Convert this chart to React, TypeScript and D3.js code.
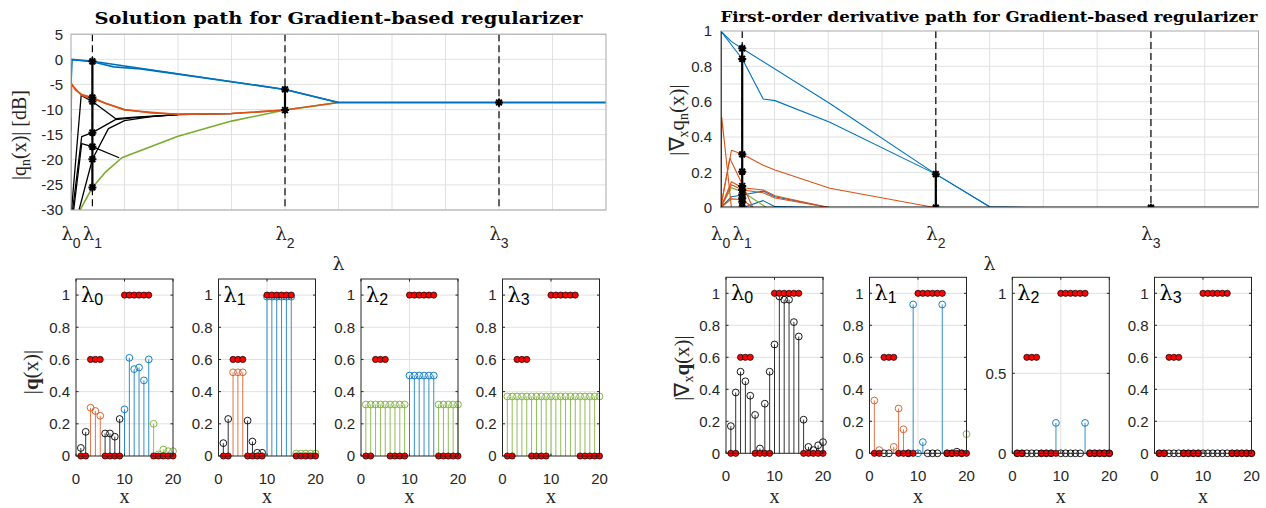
import React from 'react';
import * as d3 from 'd3';

const COL: Record<string, string> = { k: '#000000', o: '#D95319', b: '#0072BD', g: '#77AC30' };

// ---------- top plots ----------
const lambdaPos = [0, 0.4, 4, 8];
const lambdaNames = ['0', '1', '2', '3'];
const xGrid = [1, 2, 3, 4, 5, 6, 7, 8, 9];
const dbTicks = [5, 0, -5, -10, -15, -20, -25, -30];
const gradTicks = [0, 0.2, 0.4, 0.6, 0.8, 1];
const gradGrid = [0.1, 0.2, 0.3, 0.4, 0.5, 0.6, 0.7, 0.8, 0.9];

// solution path (dB)
const solBlue1: [number, number][] = [[0, 0], [0.4, -0.4], [4, -6.0], [5, -8.6], [10, -8.6]];
const solBlue2: [number, number][] = [[0, -5], [0.02, -0.1], [0.4, -0.5], [0.8, -1.5], [1.3, -1.9], [4, -6.0], [5, -8.6]];
const solOrange1: [number, number][] = [[0, -12], [0.01, -4.8], [0.08, -6.1], [0.2, -7.0], [0.4, -7.6], [0.65, -8.8], [1.0, -10.0], [1.5, -10.7], [2, -10.9], [3, -10.8], [4, -10.1], [5, -8.6], [10, -8.6]];
const solOrange2: [number, number][] = [[0.01, -5.0], [0.2, -7.2], [0.4, -7.8], [1.0, -10.1], [2, -11.0], [3, -10.8], [4, -10.1]];
const solBlack1: [number, number][] = [[0.01, -30], [0.19, -7.2], [0.4, -8.4], [0.83, -11.8], [1.2, -11.5], [2, -11.0], [3, -10.8]];
const solBlack2: [number, number][] = [[0.03, -30], [0.2, -15.4], [0.4, -14.6], [0.83, -12.0], [1.2, -11.6], [2, -11.0]];
const solBlack3: [number, number][] = [[0.05, -30], [0.2, -16.8], [0.4, -17.4], [0.9, -19.6]];
const solBlack4: [number, number][] = [[0.15, -30], [0.4, -19.9], [0.7, -13.8], [1.0, -12.2], [1.5, -11.4], [2, -11.0]];
const solBlackEdge: [number, number][] = [[0, -11.5], [0, -14.5]];
const solGreenEdge: [number, number][] = [[0, -14], [0, -30]];
const solGreen: [number, number][] = [[0.17, -30], [0.4, -25.5], [0.65, -22.4], [0.95, -19.6], [2, -15.3], [3, -12.3], [4, -10.1], [5, -8.6], [10, -8.6]];

const solPaths = [
  { c: 'k', w: 1.3, pts: solBlackEdge },
  { c: 'g', w: 1.5, pts: solGreenEdge },
  { c: 'k', w: 1.3, pts: solBlack1 },
  { c: 'k', w: 1.3, pts: solBlack2 },
  { c: 'k', w: 1.3, pts: solBlack3 },
  { c: 'k', w: 1.3, pts: solBlack4 },
  { c: 'g', w: 1.6, pts: solGreen },
  { c: 'o', w: 1.6, pts: solOrange2 },
  { c: 'o', w: 1.6, pts: solOrange1 },
  { c: 'b', w: 1.6, pts: solBlue2 },
  { c: 'b', w: 1.6, pts: solBlue1 },
];
const solStars1 = [-0.4, -7.6, -8.4, -14.6, -17.4, -19.9, -25.5];
const solStars2 = [-6.0, -10.1];
const solStars3 = [-8.6];

// derivative path
const gBlue1: [number, number][] = [[0, 1], [0.2, 0.94], [0.405, 0.9], [2.03, 0.59], [4, 0.19], [5.0, 0.005], [6, 0.0]];
const gBlue2: [number, number][] = [[0, 1], [0.405, 0.84], [0.79, 0.615], [1.01, 0.606], [2.03, 0.483], [4, 0.19], [5.0, 0.005]];
const gBlue3: [number, number][] = [[0, 0], [0.2, 0.062], [0.405, 0.072], [0.79, 0.094], [1.01, 0.062], [2.03, 0]];
const gBlue4: [number, number][] = [[0.405, 0], [0.79, 0.04], [1.01, 0.006], [2, 0]];
const gOrange1: [number, number][] = [[0, 0], [0.02, 0.51], [0.2, 0]];
const gOrange2: [number, number][] = [[0, 0], [0.2, 0.325], [0.405, 0.302], [0.79, 0.24], [1.01, 0.213], [2.03, 0.11], [4, 0]];
const gOrange3: [number, number][] = [[0, 0], [0.17, 0.28], [0.405, 0.13], [0.6, 0]];
const gOrange4: [number, number][] = [[0, 0], [0.2, 0.147], [0.405, 0.113], [0.79, 0.1], [1.01, 0.068], [2.03, 0]];
const gOrange5: [number, number][] = [[0, 0], [0.2, 0.13], [0.405, 0.1], [0.79, 0.085], [1.01, 0.055], [2.03, 0]];
const gOrange6: [number, number][] = [[0, 0], [0.2, 0.05], [0.405, 0.045], [0.6, 0]];
const gGreen: [number, number][] = [[0, 0], [0.2, 0.113], [0.405, 0.09], [0.86, 0]];
const gBlackEdge: [number, number][] = [[0, 0], [0, 1]];
const gBlackZero: [number, number][] = [[0, 0], [10, 0]];

const gradPaths = [
  { c: 'b', w: 1.1, pts: gBlue3 },
  { c: 'b', w: 1.1, pts: gBlue4 },
  { c: 'g', w: 1.1, pts: gGreen },
  { c: 'o', w: 1.1, pts: gOrange6 },
  { c: 'o', w: 1.1, pts: gOrange5 },
  { c: 'o', w: 1.1, pts: gOrange4 },
  { c: 'o', w: 1.1, pts: gOrange3 },
  { c: 'o', w: 1.1, pts: gOrange2 },
  { c: 'o', w: 1.1, pts: gOrange1 },
  { c: 'b', w: 1.1, pts: gBlue2 },
  { c: 'b', w: 1.1, pts: gBlue1 },
  { c: 'k', w: 2.2, pts: gBlackEdge },
  { c: 'k', w: 2.2, pts: gBlackZero },
];
const gradStars1 = [0.902, 0.842, 0.302, 0.204, 0.123, 0.1, 0.075, 0.053, 0.034, 0];
const gradStars2 = [0.19, 0];
const gradStars3 = [0];

// ---------- bottom stem panels ----------
const xIdx = d3.range(1, 21);
const truth = [0, 0, 0.6, 0.6, 0.6, 0, 0, 0, 0, 1, 1, 1, 1, 1, 1, 0, 0, 0, 0, 0];
const stemX = [0, 10, 20];

const qL0 = [0.05, 0.15, 0.30, 0.28, 0.25, 0.14, 0.14, 0.12, 0.23, 0.29, 0.61, 0.54, 0.55, 0.47, 0.60, 0.20, 0.01, 0.04, 0.03, 0.03];
const qL1 = [0.08, 0.23, 0.52, 0.52, 0.52, 0.22, 0.09, 0.02, 0.02, 0.99, 0.99, 0.99, 0.99, 0.99, 0.99, 0.015, 0.015, 0.015, 0.015, 0.015];
const qL2 = [0.32, 0.32, 0.32, 0.32, 0.32, 0.32, 0.32, 0.32, 0.32, 0.5, 0.5, 0.5, 0.5, 0.5, 0.5, 0.32, 0.32, 0.32, 0.32, 0.32];
const qL3 = [0.37, 0.37, 0.37, 0.37, 0.37, 0.37, 0.37, 0.37, 0.37, 0.37, 0.37, 0.37, 0.37, 0.37, 0.37, 0.37, 0.37, 0.37, 0.37, 0.37];
const cQ01 = 'kk' + 'ooo' + 'kkkk' + 'bbbbbb' + 'ggggg';
const cQ2 = 'ggggggggg' + 'bbbbbb' + 'ggggg';
const cQ3 = 'gggggggggggggggggggg';

const gR0 = [0.17, 0.38, 0.51, 0.45, 0.36, 0.24, 0.03, 0.31, 0.51, 0.68, 0.98, 0.96, 0.96, 0.82, 0.73, 0.21, 0.04, 0.02, 0.05, 0.07];
const gR1 = [0.33, 0.02, 0, 0, 0.04, 0.28, 0.15, 0, 0.93, 0, 0.07, 0, 0, 0, 0.93, 0, 0, 0.01, 0, 0.12];
const gR2 = [0, 0, 0, 0, 0, 0, 0, 0, 0.19, 0, 0, 0, 0, 0, 0.19, 0, 0, 0, 0, 0];
const gR3 = [0, 0, 0, 0, 0, 0, 0, 0, 0, 0, 0, 0, 0, 0, 0, 0, 0, 0, 0, 0];
const cG0 = 'kkkkkkkkkkkkkkkkkkkk';
const cG1 = 'ookkoookbbbkkkbkkkkg';
const cG2 = 'kkkkkkkkbkkkkkbkkkkk';
const cG3 = 'kkkkkkkkkkkkkkkkkkkk';

const ticks02 = [0, 0.2, 0.4, 0.6, 0.8, 1];
const ticks05 = [0, 0.5, 1];

const leftPanels = [
  { x0: 76, vals: qL0, cols: cQ01, lam: '0', ticks: ticks02 },
  { x0: 218.5, vals: qL1, cols: cQ01, lam: '1', ticks: ticks02 },
  { x0: 361, vals: qL2, cols: cQ2, lam: '2', ticks: ticks02 },
  { x0: 502.5, vals: qL3, cols: cQ3, lam: '3', ticks: ticks02 },
];
const rightPanels = [
  { x0: 726, vals: gR0, cols: cG0, lam: '0', ticks: ticks02 },
  { x0: 869.5, vals: gR1, cols: cG1, lam: '1', ticks: ticks02 },
  { x0: 1012.3, vals: gR2, cols: cG2, lam: '2', ticks: ticks05 },
  { x0: 1154.5, vals: gR3, cols: cG3, lam: '3', ticks: ticks02 },
];

const SANS = 'Liberation Sans, Arial, sans-serif';
const SERIF = 'Liberation Serif, Times New Roman, serif';
const LAM = 'DejaVu Serif, serif';
const TXT = '#262626';
const GRID = '#e1e1e1';

function starPath(r: number) {
  const a = r * 0.72;
  return `M${-r},0L${r},0M0,${-r}L0,${r}M${-a},${-a}L${a},${a}M${-a},${a}L${a},${-a}`;
}

function fmt(v: number) {
  return String(Math.round(v * 10) / 10);
}

type PathSpec = { c: string; w: number; pts: [number, number][] };

function PathPlot(props: {
  id: string; x0: number; x1: number; yTop: number; yBot: number; domY: [number, number];
  yTicks: number[]; yGrid: number[]; paths: PathSpec[]; stars: number[][]; tickFont: number;
  labelX: number;
}) {
  const { id, x0, x1, yTop, yBot, domY, yTicks, yGrid, paths, stars, tickFont, labelX } = props;
  const xs = d3.scaleLinear().domain([0, 10]).range([x0, x1]);
  const ys = d3.scaleLinear().domain(domY).range([yBot, yTop]);
  const line = d3.line<[number, number]>().x(d => xs(d[0])).y(d => ys(d[1]));
  const star = starPath(4);
  return (
    <g>
      <defs>
        <clipPath id={id}>
          <rect x={x0} y={yTop} width={x1 - x0} height={yBot - yTop} />
        </clipPath>
      </defs>
      <rect x={x0} y={yTop} width={x1 - x0} height={yBot - yTop} fill="#fff" />
      {xGrid.map(v => (
        <line key={'gx' + v} x1={xs(v)} x2={xs(v)} y1={yTop} y2={yBot} stroke={GRID} strokeWidth={1} />
      ))}
      {yGrid.map(v => (
        <line key={'gy' + v} x1={x0} x2={x1} y1={ys(v)} y2={ys(v)} stroke={GRID} strokeWidth={1} />
      ))}
      <g clipPath={`url(#${id})`}>
        {paths.map((p, i) => (
          <path key={i} d={line(p.pts) || ''} fill="none" stroke={COL[p.c]} strokeWidth={p.w} strokeLinejoin="round" />
        ))}
        {[1, 2, 3].map(k => (
          <line key={'dl' + k} x1={xs(lambdaPos[k])} x2={xs(lambdaPos[k])} y1={yTop} y2={yBot}
            stroke="#000" strokeWidth={1.2} strokeDasharray="7,4" />
        ))}
        {stars.map((s, k) => (
          <g key={'st' + k}>
            {s.length > 1 && (
              <line x1={xs(lambdaPos[k + 1])} x2={xs(lambdaPos[k + 1])} y1={ys(d3.max(s) as number)} y2={ys(d3.min(s) as number)}
                stroke="#000" strokeWidth={2.2} />
            )}
            {s.map((v, j) => (
              <path key={j} d={star} transform={`translate(${xs(lambdaPos[k + 1])},${ys(v)})`} stroke="#000" strokeWidth={2} fill="none" />
            ))}
          </g>
        ))}
      </g>
      <rect x={x0} y={yTop} width={x1 - x0} height={yBot - yTop} fill="none" stroke="#a8a8a8" strokeWidth={1} />
      {yTicks.map(v => (
        <text key={'yt' + v} x={labelX} y={ys(v)} dy="0.36em" textAnchor="end" fontFamily={SANS} fontSize={tickFont} fill={TXT}>
          {fmt(v)}
        </text>
      ))}
      {lambdaPos.map((v, k) => (
        <text key={'lt' + k} x={xs(v)} y={240} textAnchor="middle" fontFamily={LAM} fontSize={18} fill={TXT}>
          λ<tspan fontFamily={SANS} fontSize={14} dy={8}>{lambdaNames[k]}</tspan>
        </text>
      ))}
      <text x={(x0 + x1) / 2} y={270} textAnchor="middle" fontFamily={LAM} fontSize={19} fill={TXT}>λ</text>
    </g>
  );
}

function StemPanel(props: {
  x0: number; yTop: number; yBot: number; vals: number[]; cols: string; lam: string; ticks: number[];
  tickBase: number; xlabBase: number;
}) {
  const { x0, yTop, yBot, vals, cols, lam, ticks, tickBase, xlabBase } = props;
  const w = 97;
  const xs = d3.scaleLinear().domain([0, 20]).range([x0, x0 + w]);
  const ys = d3.scaleLinear().domain([0, 1.1]).range([yBot, yTop]);
  return (
    <g>
      <rect x={x0} y={yTop} width={w} height={yBot - yTop} fill="#fff" />
      {ticks.filter(t => t > 0).map(t => (
        <line key={'gy' + t} x1={x0} x2={x0 + w} y1={ys(t)} y2={ys(t)} stroke={GRID} strokeWidth={1} />
      ))}
      <line x1={xs(10)} x2={xs(10)} y1={yTop} y2={yBot} stroke={GRID} strokeWidth={1} />
      {xIdx.map((xi, i) => (
        <line key={'s' + i} x1={xs(xi)} x2={xs(xi)} y1={ys(0)} y2={ys(vals[i])}
          stroke={COL[cols[i]]} strokeWidth={1} strokeOpacity={0.8} />
      ))}
      {xIdx.map((xi, i) => (
        <circle key={'c' + i} cx={xs(xi)} cy={ys(vals[i])} r={3.4} fill="none" stroke={COL[cols[i]]} strokeWidth={0.9} />
      ))}
      {xIdx.map((xi, i) => (
        <circle key={'r' + i} cx={xs(xi)} cy={ys(truth[i])} r={3.1} fill="#ff0000" stroke="#000" strokeWidth={0.7} />
      ))}
      <rect x={x0} y={yTop} width={w} height={yBot - yTop} fill="none" stroke={TXT} strokeWidth={1} />
      {ticks.map(t => (
        <g key={'tk' + t}>
          <line x1={x0} x2={x0 + 2.5} y1={ys(t)} y2={ys(t)} stroke={TXT} />
          <line x1={x0 + w} x2={x0 + w - 2.5} y1={ys(t)} y2={ys(t)} stroke={TXT} />
          <text x={x0 - 6} y={ys(t)} dy="0.36em" textAnchor="end" fontFamily={SANS} fontSize={15} fill={TXT}>{fmt(t)}</text>
        </g>
      ))}
      {stemX.map(t => (
        <g key={'tx' + t}>
          <line x1={xs(t)} x2={xs(t)} y1={yBot} y2={yBot - 2.5} stroke={TXT} />
          <line x1={xs(t)} x2={xs(t)} y1={yTop} y2={yTop + 2.5} stroke={TXT} />
          <text x={xs(t)} y={tickBase} textAnchor="middle" fontFamily={SANS} fontSize={15} fill={TXT}>{t}</text>
        </g>
      ))}
      <text x={x0 + 5} y={yTop + 23} fontFamily={LAM} fontSize={21} fill="#000">
        λ<tspan fontFamily={SANS} fontSize={16} dy={3}>{lam}</tspan>
      </text>
      <text x={x0 + w / 2} y={xlabBase} textAnchor="middle" fontFamily={SERIF} fontSize={20} fill={TXT}>x</text>
    </g>
  );
}

export default function App() {
  return (
    <svg width={1266} height={508} viewBox="0 0 1266 508" style={{ position: 'absolute', left: 0, top: 0, background: '#fff' }}>
      <rect width={1266} height={508} fill="#fff" />
      {/* titles */}
      <text x={338.5} y={24} textAnchor="middle" fontFamily="DejaVu Serif, serif" fontWeight="bold" fontSize={17.5}
        textLength={488} lengthAdjust="spacingAndGlyphs" fill="#000">Solution path for Gradient-based regularizer</text>
      <text x={989} y={22} textAnchor="middle" fontFamily="DejaVu Serif, serif" fontWeight="bold" fontSize={14.5}
        textLength={537} lengthAdjust="spacingAndGlyphs" fill="#000">First-order derivative path for Gradient-based regularizer</text>

      <PathPlot id="clipL" x0={71} x1={606} yTop={34.2} yBot={210} domY={[-30, 5]} yTicks={dbTicks} yGrid={dbTicks}
        paths={solPaths} stars={[solStars1, solStars2, solStars3]} tickFont={15} labelX={63} />
      <PathPlot id="clipR" x0={720.7} x1={1258.5} yTop={31} yBot={207.7} domY={[0, 1]} yTicks={gradTicks} yGrid={gradGrid}
        paths={gradPaths} stars={[gradStars1, gradStars2, gradStars3]} tickFont={15} labelX={712} />

      {/* y labels top */}
      <text transform="translate(26,135) rotate(-90)" textAnchor="middle" fontFamily={SERIF} fontSize={20} fill={TXT}>
        |q<tspan fontSize={14} dy={4}>n</tspan><tspan dy={-4}>(x)| [dB]</tspan>
      </text>
      <text transform="translate(684,120) rotate(-90)" textAnchor="middle" fontFamily={SERIF} fontSize={21} fill={TXT}>
        |∇<tspan fontSize={14} dy={4}>x</tspan><tspan dy={-4}>q</tspan><tspan fontSize={14} dy={4}>n</tspan><tspan dy={-4}>(x)|</tspan>
      </text>

      {leftPanels.map((p, i) => (
        <StemPanel key={'L' + i} x0={p.x0} yTop={279} yBot={456} vals={p.vals} cols={p.cols} lam={p.lam} ticks={p.ticks}
          tickBase={484} xlabBase={503} />
      ))}
      {rightPanels.map((p, i) => (
        <StemPanel key={'R' + i} x0={p.x0} yTop={277.3} yBot={453.3} vals={p.vals} cols={p.cols} lam={p.lam} ticks={p.ticks}
          tickBase={481} xlabBase={503} />
      ))}

      {/* y labels bottom */}
      <text transform="translate(38,372) rotate(-90)" textAnchor="middle" fontFamily={SERIF} fontSize={21} fill={TXT}>
        |<tspan fontWeight="bold">q</tspan>(x)|
      </text>
      <text transform="translate(689,368) rotate(-90)" textAnchor="middle" fontFamily={SERIF} fontSize={21} fill={TXT}>
        |∇<tspan fontSize={14} dy={4}>x</tspan><tspan dy={-4} fontWeight="bold">q</tspan>(x)|
      </text>
    </svg>
  );
}
